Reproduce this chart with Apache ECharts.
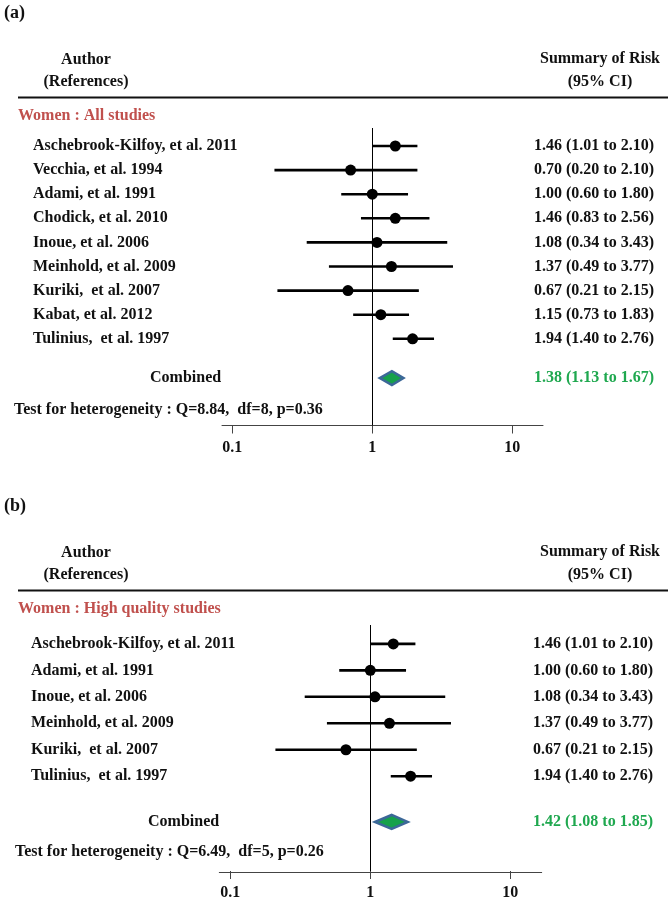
<!DOCTYPE html>
<html><head><meta charset="utf-8">
<script src="https://cdn.jsdelivr.net/npm/echarts@6/dist/echarts.min.js"></script>
<style>html,body{margin:0;padding:0;background:#fff}#c{width:671px;height:901px}</style>
</head><body><div id="c"></div>
<script>
// ---------- DATA ----------
// Panel (a): Women : All studies
const authorsA = ['Aschebrook-Kilfoy, et al. 2011','Vecchia, et al. 1994','Adami, et al. 1991','Chodick, et al. 2010','Inoue, et al. 2006','Meinhold, et al. 2009','Kuriki,  et al. 2007','Kabat, et al. 2012','Tulinius,  et al. 1997'];
const rrA = [1.46, 0.70, 1.00, 1.46, 1.08, 1.37, 0.67, 1.15, 1.94];
const loA = [1.01, 0.20, 0.60, 0.83, 0.34, 0.49, 0.21, 0.73, 1.40];
const hiA = [2.10, 2.10, 1.80, 2.56, 3.43, 3.77, 2.15, 1.83, 2.76];
const combinedA = [1.38, 1.13, 1.67];
const groupA = 'Women : All studies';
const heteroA = 'Test for heterogeneity : Q=8.84,  df=8, p=0.36';

// Panel (b): Women : High quality studies
const authorsB = ['Aschebrook-Kilfoy, et al. 2011','Adami, et al. 1991','Inoue, et al. 2006','Meinhold, et al. 2009','Kuriki,  et al. 2007','Tulinius,  et al. 1997'];
const rrB = [1.46, 1.00, 1.08, 1.37, 0.67, 1.94];
const loB = [1.01, 0.60, 0.34, 0.49, 0.21, 1.40];
const hiB = [2.10, 1.80, 3.43, 3.77, 2.15, 2.76];
const combinedB = [1.42, 1.08, 1.85];
const groupB = 'Women : High quality studies';
const heteroB = 'Test for heterogeneity : Q=6.49,  df=5, p=0.26';

const tickValues = [0.1, 1, 10];
const tickLabels = ['0.1', '1', '10'];
const colHeadLeft = ['Author', '(References)'];
const colHeadRight = ['Summary of Risk', '(95% CI)'];

// ---------- LAYOUT / STYLE ----------
const FONT = '"Liberation Serif", "Times New Roman", serif';
const RED = '#c0504d', GREEN = '#1fa84f', DIA_FILL = '#16a14b', DIA_STROKE = '#3c6898';
const panels = [
  { tag: '(a)', authors: authorsA, rr: rrA, lo: loA, hi: hiA, comb: combinedA, group: groupA, hetero: heteroA,
    off: 0, top: 128, axisY: 425.5, row0: 146, step: 24.1, combGap: 0.63,
    plotL: 232.3, plotR: 512.3, lineL: 222, lineR: 543,
    authorX: 33, ciX: 534, combX: 150, testX: 14, testY: 410 },
  { tag: '(b)', authors: authorsB, rr: rrB, lo: loB, hi: hiB, comb: combinedB, group: groupB, hetero: heteroB,
    off: 493, top: 625, axisY: 872.3, row0: 644, step: 26.6, combGap: 0.73,
    plotL: 230.3, plotR: 510.3, lineL: 219.3, lineR: 541.7,
    authorX: 31, ciX: 533, combX: 148, testX: 15, testY: 852 }
];

const f2 = v => v.toFixed(2);
const ciText = (r, l, h) => f2(r) + ' (' + f2(l) + ' to ' + f2(h) + ')';
function txt(x, y, text, opt) {
  opt = opt || {};
  return { type: 'text', x: x, y: y, silent: true,
    style: { text: text, fill: opt.fill || '#111', fontFamily: FONT, fontWeight: 'bold',
      fontSize: opt.size || 16, align: opt.align || 'left', verticalAlign: 'middle' } };
}

const grid = [], xAxis = [], yAxis = [], series = [], graphic = [];
panels.forEach((p, k) => {
  const gPlot = grid.length;
  grid.push({ left: p.plotL, top: p.top, width: p.plotR - p.plotL, height: p.axisY - p.top });
  const gLine = grid.length;
  grid.push({ left: p.lineL, top: p.top, width: p.lineR - p.lineL, height: p.axisY - p.top });
  const yMin = (p.top - p.row0) / p.step, yMax = (p.axisY - p.row0) / p.step;
  // plot axes
  xAxis.push({ gridIndex: gPlot, type: 'log', logBase: 10, position: 'bottom',
    min: tickValues[0], max: tickValues[tickValues.length - 1],
    axisLine: { show: false, onZero: false },
    axisTick: { show: true, length: 8, lineStyle: { color: '#444', width: 1 } },
    splitLine: { show: false },
    axisLabel: { show: true, margin: 14, color: '#111', fontFamily: FONT, fontWeight: 'bold', fontSize: 16,
      formatter: v => { const i = tickValues.findIndex(t => Math.abs(Math.log10(t / v)) < 1e-6); return i >= 0 ? tickLabels[i] : ''; } } });
  yAxis.push({ gridIndex: gPlot, type: 'value', inverse: true, min: yMin, max: yMax, show: false,
    axisLine: { onZero: false } });
  // axis-line axes
  xAxis.push({ gridIndex: gLine, type: 'value', min: 0, max: 1, position: 'bottom',
    axisLine: { show: true, onZero: false, lineStyle: { color: '#444', width: 1 } },
    axisTick: { show: false }, axisLabel: { show: false }, splitLine: { show: false } });
  yAxis.push({ gridIndex: gLine, type: 'value', min: 0, max: 1, show: false, axisLine: { onZero: false } });
  const xi = 2 * k, yi = 2 * k;

  // CI bars + row texts
  series.push({
    type: 'custom', xAxisIndex: xi, yAxisIndex: yi, silent: true, clip: false,
    data: p.rr.map((r, i) => [r, p.lo[i], p.hi[i], i]),
    encode: { x: [0, 1, 2], y: 3 },
    renderItem: (params, api) => {
      const i = api.value(3);
      const a = api.coord([api.value(1), i]);
      const b = api.coord([api.value(2), i]);
      const y = a[1];
      return { type: 'group', children: [
        { type: 'line', shape: { x1: a[0], y1: y, x2: b[0], y2: y }, style: { stroke: '#000', lineWidth: 2.6 } },
        txt(p.authorX, y, p.authors[i]),
        txt(p.ciX, y, ciText(api.value(0), api.value(1), api.value(2)))
      ] };
    }
  });
  // point estimates + reference line at 1
  series.push({
    type: 'scatter', xAxisIndex: xi, yAxisIndex: yi, silent: true, z: 3,
    symbol: 'circle', symbolSize: 11, itemStyle: { color: '#000', opacity: 1 },
    data: p.rr.map((r, i) => [r, i]),
    markLine: { silent: true, symbol: 'none', animation: false, label: { show: false },
      lineStyle: { color: '#000', width: 1, type: 'solid', opacity: 1 }, data: [{ xAxis: 1 }] }
  });
  // combined diamond
  const n = p.rr.length;
  series.push({
    type: 'custom', xAxisIndex: xi, yAxisIndex: yi, silent: true, clip: false, z: 4,
    data: [[p.comb[0], p.comb[1], p.comb[2], n + p.combGap]],
    encode: { x: [0, 1, 2], y: 3 },
    renderItem: (params, api) => {
      const yv = api.value(3);
      const c = api.coord([api.value(0), yv]);
      const l = api.coord([api.value(1), yv]);
      const h = api.coord([api.value(2), yv]);
      const hh = 7;
      return { type: 'group', children: [
        { type: 'polygon', shape: { points: [[l[0], c[1]], [c[0], c[1] - hh], [h[0], c[1]], [c[0], c[1] + hh]] },
          style: { fill: DIA_FILL, stroke: DIA_STROKE, lineWidth: 2.5, lineJoin: 'miter' } },
        txt(p.combX, c[1], 'Combined'),
        txt(p.ciX, c[1], ciText(api.value(0), api.value(1), api.value(2)), { fill: GREEN })
      ] };
    }
  });

  // headers and annotations
  const o = p.off;
  graphic.push(txt(4, 13 + o, p.tag, { size: 18 }));
  graphic.push(txt(86, 60 + o, colHeadLeft[0], { align: 'center' }));
  graphic.push(txt(86, 82 + o, colHeadLeft[1], { align: 'center' }));
  graphic.push(txt(600, 59 + o, colHeadRight[0], { align: 'center' }));
  graphic.push(txt(600, 82 + o, colHeadRight[1], { align: 'center' }));
  graphic.push({ type: 'line', silent: true, shape: { x1: 18, y1: 97.5 + o, x2: 668, y2: 97.5 + o },
    style: { stroke: '#111', lineWidth: 2 } });
  graphic.push(txt(18, 116 + o, p.group, { fill: RED }));
  graphic.push(txt(p.testX, p.testY, p.hetero));
});

const chart = echarts.init(document.getElementById('c'), null, { renderer: 'canvas' });
chart.setOption({
  animation: false,
  backgroundColor: '#fff',
  grid: grid, xAxis: xAxis, yAxis: yAxis, series: series, graphic: graphic
});
</script>
</body></html>
